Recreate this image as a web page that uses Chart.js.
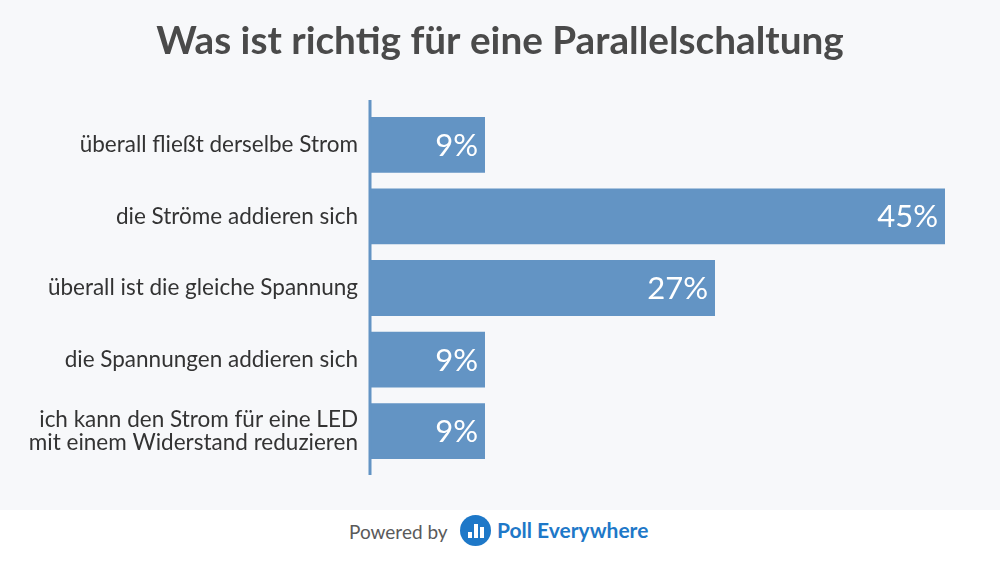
<!DOCTYPE html>
<html>
<head>
<meta charset="utf-8">
<script src="https://cdn.jsdelivr.net/npm/chart.js@4.4.0/dist/chart.umd.min.js"></script>
<style>
  html, body { margin: 0; padding: 0; width: 1000px; height: 562px; overflow: hidden; background: #ffffff; font-family: Lato, "Open Sans", sans-serif; }
  #wrap { position: absolute; left: 0; top: 0; width: 1000px; height: 510px; background: #f7f8fa; }
  #footer { position: absolute; left: 0; top: 510px; width: 1000px; height: 52px; background: #ffffff; }
  #powered { position: absolute; left: 349px; top: 9px; font-size: 19px; color: #5a5a5a; line-height: 26px; }
  #logo { position: absolute; left: 460px; top: 5px; width: 31px; height: 31px; border-radius: 50%; background: #1e78c8; }
  #brand { position: absolute; left: 497px; top: 7px; font-size: 21px; font-weight: bold; color: #1e78c8; line-height: 26px; }
</style>
</head>
<body>
<div id="wrap"><canvas id="c" width="1000" height="510"></canvas></div>
<div id="footer">
  <div id="powered">Powered by</div>
  <div id="logo"><svg width="31" height="31" viewBox="0 0 31 31"><rect x="8" y="17" width="4" height="6" fill="#fff"/><rect x="14" y="9" width="4" height="14" fill="#fff"/><rect x="20" y="12" width="4" height="11" fill="#fff"/></svg></div>
  <div id="brand">Poll Everywhere</div>
</div>
<script>
const titleText = "Was ist richtig für eine Parallelschaltung";
const categories = [
  ["überall fließt derselbe Strom"],
  ["die Ströme addieren sich"],
  ["überall ist die gleiche Spannung"],
  ["die Spannungen addieren sich"],
  ["ich kann den Strom für eine LED", "mit einem Widerstand reduzieren"]
];
const percentages = [9, 45, 27, 9, 9];
const axisMax = 45;

const FONT = "Lato, 'Open Sans', sans-serif";

const centeredTitle = {
  id: 'centeredTitle',
  afterDraw(chart) {
    const ctx = chart.ctx;
    ctx.save();
    ctx.fillStyle = '#4a4a4a';
    ctx.font = "bold 38.7px " + FONT;
    ctx.textAlign = 'center';
    ctx.textBaseline = 'middle';
    ctx.fillText(titleText, chart.width / 2, 42);
    ctx.restore();
  }
};
const valueLabels = {
  id: 'valueLabels',
  afterDatasetsDraw(chart) {
    const ctx = chart.ctx;
    const meta = chart.getDatasetMeta(0);
    ctx.save();
    ctx.fillStyle = '#ffffff';
    ctx.font = "31px " + FONT;
    ctx.textAlign = 'right';
    ctx.textBaseline = 'middle';
    meta.data.forEach((bar, i) => {
      ctx.fillText(percentages[i] + '%', bar.x - 7, bar.y + 1);
    });
    ctx.restore();
  }
};
const axisLine = {
  id: 'axisLine',
  afterDatasetsDraw(chart) {
    const a = chart.chartArea;
    const ctx = chart.ctx;
    ctx.save();
    ctx.strokeStyle = '#6394c4';
    ctx.lineWidth = 3;
    ctx.beginPath();
    ctx.moveTo(a.left, a.top - 9);
    ctx.lineTo(a.left, a.bottom + 8);
    ctx.stroke();
    ctx.restore();
  }
};

new Chart(document.getElementById('c'), {
  type: 'bar',
  data: {
    labels: categories,
    datasets: [{
      data: percentages,
      backgroundColor: '#6394c4',
      borderWidth: 0,
      categoryPercentage: 0.78,
      barPercentage: 1.0
    }]
  },
  options: {
    indexAxis: 'y',
    responsive: false,
    animation: false,
    layout: { padding: { left: 0, right: 55, top: 109, bottom: 43 } },
    plugins: {
      legend: { display: false },
      tooltip: { enabled: false },
      title: { display: false }
    },
    scales: {
      x: { display: false, min: 0, max: axisMax },
      y: {
        grid: { display: false },
        border: { display: false },
        ticks: {
          color: '#333333',
          padding: 4,
          font: { family: FONT, size: 22.5, lineHeight: 1.04 }
        },
        afterFit(scale) { scale.width = 370; }
      }
    }
  },
  plugins: [valueLabels, axisLine, centeredTitle]
});
</script>
</body>
</html>
